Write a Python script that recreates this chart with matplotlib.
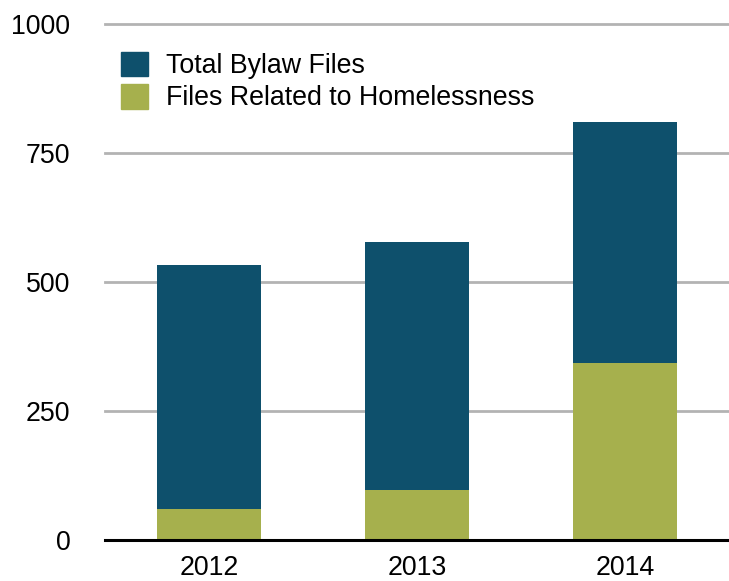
import matplotlib.pyplot as plt
from matplotlib.patches import Patch

# Bylaw file counts per year
years = ['2012', '2013', '2014']
total_files = [533, 577, 810]
homeless_files = [59, 96, 342]
y_ticks = [0, 250, 500, 750, 1000]

blue = '#0e506c'
green = '#a6b04d'

plt.rcParams['font.family'] = ['Liberation Sans', 'DejaVu Sans']

fig = plt.figure(figsize=(7.29, 5.81), dpi=100)
ax = fig.add_axes([105 / 729, 41.5 / 581, 624 / 729, 515.5 / 581])

x = list(range(len(years)))
# homelessness bars drawn over the totals (same x, not stacked)
ax.bar(x, total_files, width=0.5, color=blue, zorder=3)
ax.bar(x, homeless_files, width=0.5, color=green, zorder=4)

ax.set_xlim(-0.5, 2.5)
ax.set_ylim(0, 1000)

for t in y_ticks[1:]:
    ax.axhline(t, color='#b3b3b3', linewidth=2, zorder=1, clip_on=False)

for side in ['top', 'right', 'left']:
    ax.spines[side].set_visible(False)
ax.spines['bottom'].set_color('black')
ax.spines['bottom'].set_linewidth(2.2)
ax.spines['bottom'].set_zorder(5)

ax.set_xticks(x)
ax.set_xticklabels(years)
ax.set_yticks(y_ticks)
ax.set_yticklabels([str(t) for t in y_ticks])
ax.tick_params(axis='both', length=0, labelsize=19.3, colors='black')
ax.tick_params(axis='y', pad=25)
ax.tick_params(axis='x', pad=11)

handles = [Patch(color=blue, label='Total Bylaw Files'),
           Patch(color=green, label='Files Related to Homelessness')]
fig.legend(handles=handles, loc='upper left',
           bbox_to_anchor=(121 / 729, 1 - 52 / 581),
           frameon=False, fontsize=19.3, borderpad=0, borderaxespad=0,
           handlelength=1.02, handleheight=1.02, handletextpad=0.65,
           labelspacing=0.18)

plt.savefig('out.png', dpi=100)
